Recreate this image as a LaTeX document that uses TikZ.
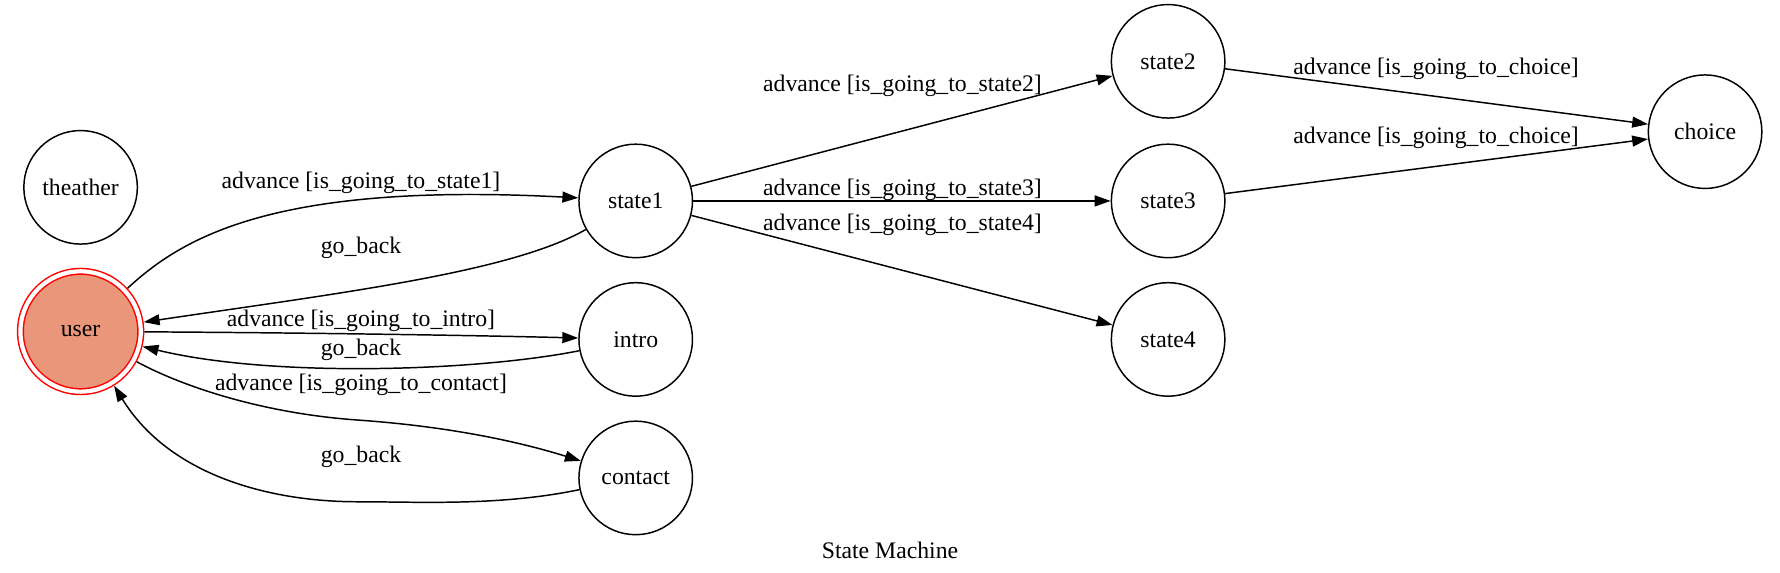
\documentclass[tikz,border=0pt]{standalone}
\usepackage{fontspec}
\setmainfont{Liberation Serif}
\usetikzlibrary{arrows.meta}
\definecolor{usersalmon}{HTML}{E9967A}
\begin{document}
\begin{tikzpicture}[x=0.5pt,y=-0.5pt,
  font=\fontsize{10.45}{12.5}\selectfont,
  state/.style={circle,draw,line width=0.65pt,minimum size=50pt,inner sep=0pt},
  edge/.style={line width=0.65pt,-{Triangle[length=7pt,width=4.8pt]}},
  lbl/.style={inner sep=0pt}]
\useasboundingbox (0,0) rectangle (1568,504);
% nodes
\node[state] (theather) at (71,165) {theather};
\node[state,draw=red,fill=usersalmon,double,double distance=1.85pt,minimum size=53pt,outer sep=1.6pt] (user) at (71,292) {user};
\node[state] (state1) at (560,177) {state1};
\node[state] (intro) at (560,299) {intro};
\node[state] (contact) at (560,421) {contact};
\node[state] (state2) at (1029,54) {state2};
\node[state] (state3) at (1029,177) {state3};
\node[state] (state4) at (1029,299) {state4};
\node[state] (choice) at (1502,116) {choice};
% edges
\draw[edge] (user) .. controls (160,210) and (240,160) .. (state1);
\draw[edge] (state1) .. controls (450,240) and (300,258) .. (user);
\draw[edge] (user) .. controls (250,293) and (400,295) .. (intro);
\draw[edge] (intro) .. controls (420,327) and (240,333) .. (user);
\draw[edge] (user) .. controls (160,340) and (230,364) .. (315,370) .. controls (400,376) and (460,390) .. (contact);
\draw[edge] (contact) .. controls (440,446) and (370,442) .. (315,442) .. controls (240,442) and (150,420) .. (user);
\draw[edge] (state1) -- (state2);
\draw[edge] (state1) -- (state3);
\draw[edge] (state1) -- (state4);
\draw[edge] (state2) -- (choice);
\draw[edge] (state3) -- (choice);
% labels
\node[lbl] (l1) at (318,161) {advance [is\_going\_to\_state1]};
\node[lbl] (l2) at (318,218) {go\_back};
\node[lbl] (l3) at (318,283) {advance [is\_going\_to\_intro]};
\node[lbl] (l4) at (318,308.5) {go\_back};
\node[lbl] (l5) at (318,339) {advance [is\_going\_to\_contact]};
\node[lbl] (l6) at (318,402) {go\_back};
\node[lbl] (l7) at (795,76) {advance [is\_going\_to\_state2]};
\node[lbl] (l8) at (795,167.5) {advance [is\_going\_to\_state3]};
\node[lbl] (l9) at (795,198) {advance [is\_going\_to\_state4]};
\node[lbl] (l10) at (1265,61) {advance [is\_going\_to\_choice]};
\node[lbl] (l11) at (1265,121) {advance [is\_going\_to\_choice]};
\node[lbl] (caption) at (784,485) {State Machine};
\end{tikzpicture}
\end{document}
